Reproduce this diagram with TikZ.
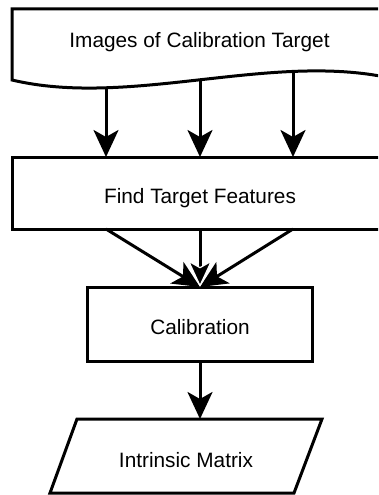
\documentclass[tikz,border=0pt]{standalone}
\usepackage{fontspec}
\setmainfont{Liberation Sans}
\usetikzlibrary{arrows.meta}
\begin{document}
\begin{tikzpicture}[x=1pt,y=-1pt,
  outl/.style={draw=black,line width=3pt,line join=miter},
  boxnode/.style={outl,rectangle,inner sep=0pt,outer sep=0pt},
  lbl/.style={anchor=base,inner sep=0pt,font=\fontsize{20.8}{24}\selectfont},
  flow/.style={line width=3pt,-{Stealth[length=27pt,width=25pt,inset=7pt]}},
  flowc/.style={line width=3pt,-{Stealth[length=27pt,width=25pt,inset=7pt,color=white,fill=black,line width=1.2pt]}}]
\useasboundingbox (0,0) rectangle (378,495);
\clip (0,0) rectangle (378,495);
% document shape
\draw[outl] (12,80) -- (12,9) -- (390,9) -- (390,78)
  .. controls (270,52) and (130,108) .. (12,80) -- cycle;
\node[lbl] (imgtxt) at (199.5,48) {Images of Calibration Target};
\coordinate (w1) at (106,88);
\coordinate (w2) at (200,80);
\coordinate (w3) at (293,71.3);
% boxes
\node[boxnode,minimum width=376pt,minimum height=72pt] (ftf) at (200,193) {};
\node[lbl] (ftftxt) at (200,203) {Find Target Features};
\node[boxnode,minimum width=225pt,minimum height=74pt] (cal) at (200,324) {};
\node[lbl] (caltxt) at (200,334) {Calibration};
\draw[outl] (50,493) -- (77,419) -- (322,419) -- (294,493) -- cycle;
\coordinate (imtop) at (200,419);
\node[lbl] (imtxt) at (186,467) {Intrinsic Matrix};
% connectors
\draw[flow] (w1) -- (w1 |- ftf.north);
\draw[flow] (w2) -- (w2 |- ftf.north);
\draw[flow] (w3) -- (w3 |- ftf.north);
\draw[flow] (ftf.south -| w1) -- (cal.north);
\draw[flow] (ftf.south -| w3) -- (cal.north);
\draw[flowc] (ftf.south) -- (cal.north);
\draw[flow] (cal.south) -- (imtop);
\end{tikzpicture}
\end{document}
